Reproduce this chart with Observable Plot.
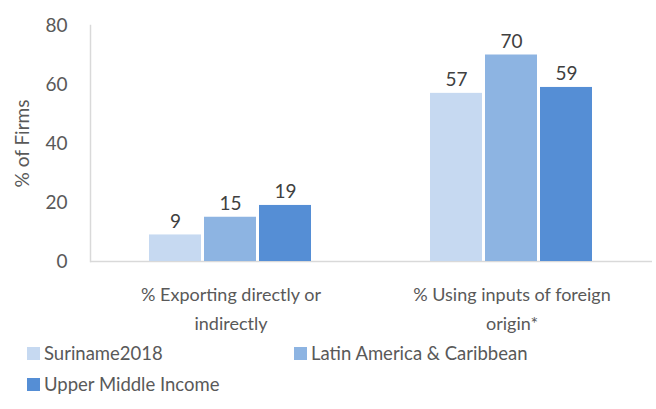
<!DOCTYPE html>
<html>
<head>
<meta charset="utf-8">
<script src="https://cdn.jsdelivr.net/npm/d3@7"></script>
<script src="https://cdn.jsdelivr.net/npm/@observablehq/plot@0.6"></script>
<style>
  html, body { margin: 0; padding: 0; background: #fff; }
  body { width: 656px; height: 409px; overflow: hidden; font-family: Lato, sans-serif; color: #595959; }
  #legend { position: relative; height: 74px; font-size: 18.5px; }
  .item { position: absolute; display: flex; align-items: center; white-space: nowrap; }
  .sw { width: 13px; height: 13px; margin-right: 4px; }
</style>
</head>
<body>
<div id="chart"></div>
<div id="legend"></div>
<script>
const categories = ["% Exporting directly or\nindirectly", "% Using inputs of foreign\norigin*"];
const series = ["Suriname2018", "Latin America & Caribbean", "Upper Middle Income"];
const suriname = [9, 57];
const lac = [15, 70];
const umi = [19, 59];
const colors = ["#C6D9F1", "#8DB4E2", "#558ED5"];
const yTicks = [0, 20, 40, 60, 80];

const values = [suriname, lac, umi];
const data = [];
series.forEach((s, si) => categories.forEach((c, ci) => data.push({category: c, series: s, value: values[si][ci]})));

const chart = Plot.plot({
  width: 656,
  height: 335,
  marginTop: 25,
  marginBottom: 74,
  marginLeft: 89,
  marginRight: 4,
  style: {fontFamily: "Lato, sans-serif", color: "#595959", fontSize: "18px"},
  fx: {domain: categories, padding: 0, axis: null},
  x: {domain: series, paddingInner: 0.054, paddingOuter: 1.04, axis: null},
  y: {domain: [0, 80], axis: null},
  color: {domain: series, range: colors},
  marks: [
    Plot.ruleY([0], {stroke: "#D9D9D9", strokeWidth: 1.5}),
    Plot.frame({anchor: "left", facetAnchor: "left", stroke: "#D9D9D9", strokeWidth: 1.5}),
    Plot.axisY(yTicks, {tickSize: 0, tickPadding: 23, fontSize: 19, fill: "#595959", label: null}),
    Plot.text(["% of Firms"], {facetAnchor: "left", frameAnchor: "left", textAnchor: "middle", rotate: -90, dx: -68, fontSize: 19, fill: "#595959"}),
    Plot.barY(data, {fx: "category", x: "series", y: "value", fill: "series"}),
    Plot.text(data, {fx: "category", x: "series", y: "value", text: d => String(d.value), lineAnchor: "bottom", dy: -7, fontSize: 19, fill: "#404040"}),
    Plot.text(categories, {fx: d => d, frameAnchor: "bottom", text: d => d, lineAnchor: "top", dy: 19, fontSize: 18, lineHeight: 1.6, fill: "#595959"})
  ]
});
document.getElementById("chart").appendChild(chart);

const legend = document.getElementById("legend");
const pos = [[27, 7], [294, 7], [27, 38]];
series.forEach((s, i) => {
  const it = document.createElement("div");
  it.className = "item";
  it.style.left = pos[i][0] + "px";
  it.style.top = pos[i][1] + "px";
  it.innerHTML = `<span class="sw" style="background:${colors[i]}"></span><span>${s}</span>`;
  legend.appendChild(it);
});
</script>
</body>
</html>
